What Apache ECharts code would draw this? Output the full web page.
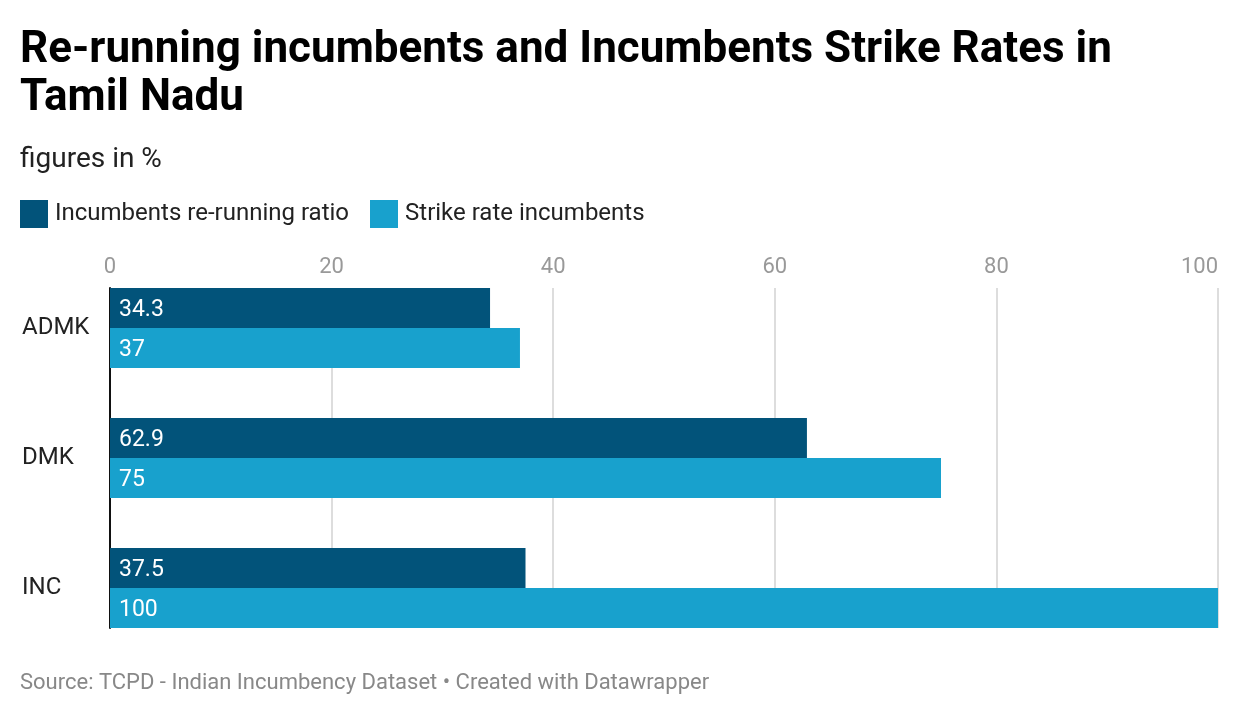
<!DOCTYPE html>
<html>
<head>
<meta charset="utf-8">
<script src="https://cdn.jsdelivr.net/npm/echarts@6/dist/echarts.min.js"></script>
<style>
  html, body { margin: 0; padding: 0; background: #fff; }
  #mainChart { width: 1240px; height: 714px; }
</style>
</head>
<body>
<div id="mainChart"></div>
<script>
// data
var parties = ['ADMK', 'DMK', 'INC']
var rerunRatio = [34.3, 62.9, 37.5]
var strikeRate = [37, 75, 100]
var xTicks = [0, 20, 40, 60, 80, 100]

var darkBlue = '#02537a'
var lightBlue = '#18a1cd'
var font = 'Roboto, "Noto Sans", sans-serif'

var chart = echarts.init(document.getElementById('mainChart'))

function barSeries (name, values, color) {
  return {
    name: name,
    type: 'bar',
    xAxisIndex: 0,
    yAxisIndex: 0,
    data: values,
    barWidth: 40,
    barGap: '0%',
    itemStyle: { color: color },
    label: {
      show: true,
      position: 'insideLeft',
      distance: 9,
      offset: [0, 2],
      color: '#fff',
      fontSize: 23,
      fontFamily: font
    },
    emphasis: { disabled: true }
  }
}

var option = {
  animation: false,
  backgroundColor: '#fff',
  title: [
    {
      text: 'Re-running incumbents and Incumbents Strike Rates in\nTamil Nadu',
      left: 15,
      top: 22,
      textStyle: { fontFamily: font, fontSize: 44, fontWeight: 'bold', color: '#000', lineHeight: 48 }
    },
    {
      text: 'figures in %',
      left: 15,
      top: 141,
      textStyle: { fontFamily: font, fontSize: 28, fontWeight: 'normal', color: '#222' }
    },
    {
      text: 'Source: TCPD - Indian Incumbency Dataset • Created with Datawrapper',
      left: 15,
      top: 667,
      textStyle: { fontFamily: font, fontSize: 22, fontWeight: 'normal', color: '#888' }
    }
  ],
  legend: {
    left: 15,
    top: 195,
    itemWidth: 28,
    itemHeight: 28,
    itemGap: 21,
    icon: 'rect',
    textStyle: { fontFamily: font, fontSize: 24, color: '#222', padding: [0, 0, 0, 2] },
    data: ['Incumbents re-running ratio', 'Strike rate incumbents']
  },
  grid: [
    // bars: each category band is 130px tall
    { left: 110, right: 22, top: 263, height: 390 },
    // gridlines + top labels, spanning only the bar area
    { left: 110, right: 22, top: 288, height: 340 }
  ],
  xAxis: [
    {
      gridIndex: 0,
      type: 'value',
      min: 0,
      max: 100,
      interval: 20,
      show: false
    },
    {
      gridIndex: 1,
      type: 'value',
      position: 'top',
      min: xTicks[0],
      max: xTicks[xTicks.length - 1],
      interval: 20,
      axisLine: { show: false },
      axisTick: { show: false },
      axisLabel: { color: '#999', fontSize: 22, fontFamily: font, margin: 10, alignMaxLabel: 'right' },
      splitLine: { lineStyle: { color: '#ddd', width: 2 } }
    }
  ],
  yAxis: [
    {
      gridIndex: 0,
      type: 'category',
      data: parties,
      inverse: true,
      axisLine: { show: false },
      axisTick: { show: false },
      axisLabel: { color: '#222', fontSize: 24, fontFamily: font, align: 'left', margin: 88, padding: [8, 0, 0, 0] }
    },
    {
      gridIndex: 1,
      type: 'value',
      min: 0,
      max: 1,
      axisLine: { show: true, lineStyle: { color: '#111', width: 2 } },
      axisTick: { show: false },
      axisLabel: { show: false },
      splitLine: { show: false }
    }
  ],
  series: [
    barSeries('Incumbents re-running ratio', rerunRatio, darkBlue),
    barSeries('Strike rate incumbents', strikeRate, lightBlue)
  ]
}

chart.setOption(option)
</script>
</body>
</html>
